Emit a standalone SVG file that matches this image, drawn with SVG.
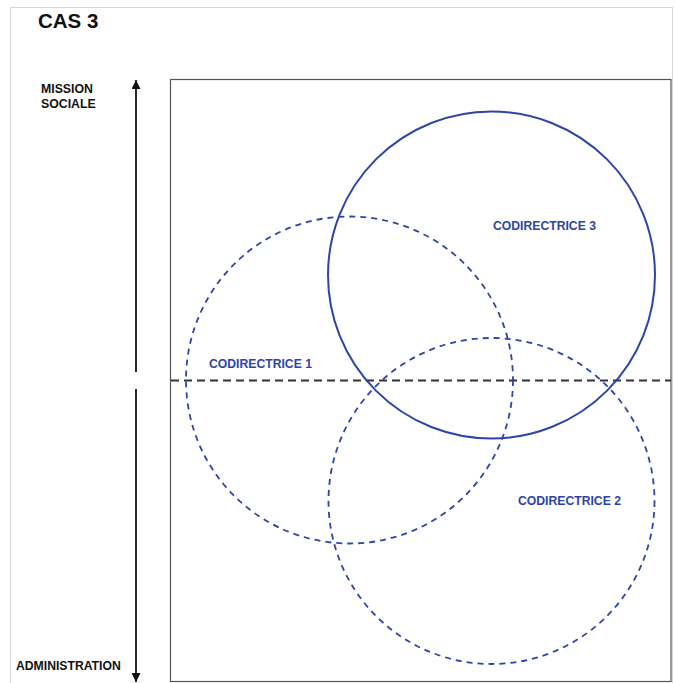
<svg xmlns="http://www.w3.org/2000/svg" width="675" height="683" viewBox="0 0 675 683">
<style>
.t{font-family:"Liberation Sans",Arial,sans-serif;font-weight:bold;fill:#111}
.lbl{font-family:"Liberation Sans",Arial,sans-serif;font-weight:bold;font-size:12.2px;fill:#2e44a6}
.solid{fill:none;stroke:#2e44a6;stroke-width:2}
.dash{fill:none;stroke:#2e44a6;stroke-width:1.8;stroke-dasharray:6 5}
</style>
<defs>
<marker id="ah" viewBox="0 0 10 10" refX="10" refY="5" markerWidth="9" markerHeight="9" markerUnits="userSpaceOnUse" orient="auto">
<path d="M0,0 L10,5 L0,10 z" fill="#111"/>
</marker>
</defs>
<rect width="675" height="683" fill="#fff"/>
<rect x="10.5" y="7.5" width="662" height="680" fill="none" stroke="#d8d8d8" stroke-width="1"/>
<rect x="170.5" y="79.5" width="500.5" height="602" fill="none" stroke="#555" stroke-width="1.2"/>
<text class="t" x="38" y="28" font-size="20.5">CAS 3</text>
<text class="t" x="41" y="93" font-size="12.3">MISSION</text>
<text class="t" x="41" y="108" font-size="12.3">SOCIALE</text>
<text class="t" x="16" y="670" font-size="12.2">ADMINISTRATION</text>
<g id="connectors">
<line x1="136" y1="372" x2="136" y2="80" stroke="#111" stroke-width="1.8" marker-end="url(#ah)"/>
<line x1="136" y1="389" x2="136" y2="682" stroke="#111" stroke-width="1.8" marker-end="url(#ah)"/>
<line x1="171" y1="380.5" x2="671" y2="380.5" stroke="#333" stroke-width="1.8" stroke-dasharray="8 5"/>
</g>
<g id="codirectrice1">
<circle class="dash" cx="349.5" cy="380" r="163.5"/>
<text class="lbl" x="209" y="368">CODIRECTRICE 1</text>
</g>
<g id="codirectrice2">
<circle class="dash" cx="491.5" cy="501" r="163"/>
<text class="lbl" x="518" y="505">CODIRECTRICE 2</text>
</g>
<g id="codirectrice3">
<circle class="solid" cx="491.5" cy="275" r="163.5"/>
<text class="lbl" x="493" y="230">CODIRECTRICE 3</text>
</g>
</svg>
